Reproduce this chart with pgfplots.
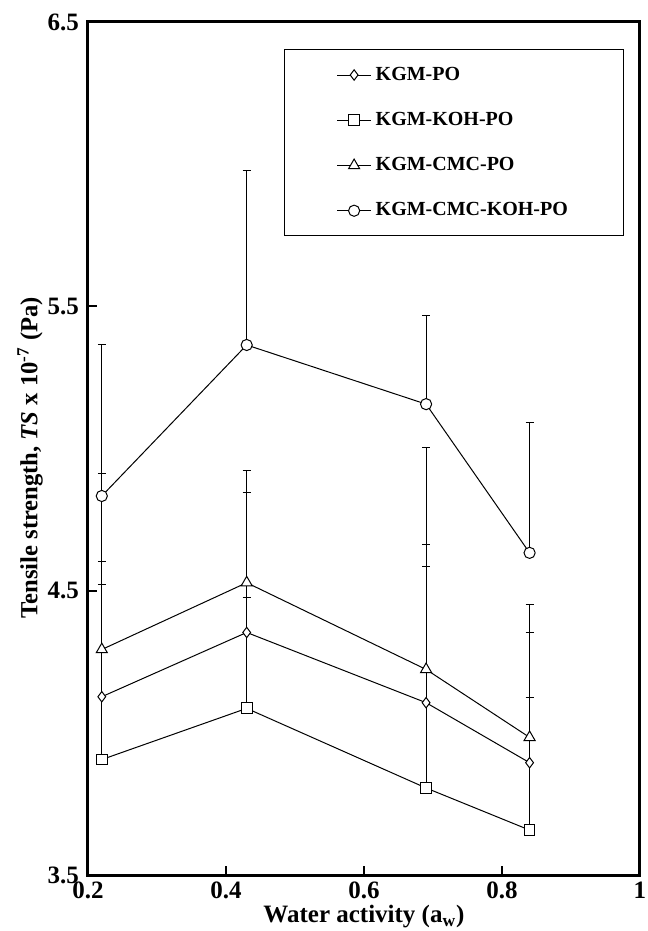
\documentclass[border=0pt]{standalone}
\usepackage{pgfplots}
\pgfplotsset{compat=1.18}
\usepackage{fontspec}
\setmainfont{Liberation Serif}
\begin{document}
\begin{tikzpicture}
\begin{axis}[
  scale only axis,
  width=276pt, height=426.5pt,
  xmin=0.2, xmax=1, ymin=3.5, ymax=6.5,
  xtick={0.2,0.4,0.6,0.8,1},
  xticklabels={0.2,0.4,0.6,0.8,1},
  ytick={3.5,4.5,5.5,6.5},
  yticklabels={3.5,4.5,5.5,6.5},
  tick pos=left, tick align=inside,
  major tick length=4.5pt,
  axis line style={line width=1.5pt},
  tick style={line width=1pt, black},
  /pgf/number format/assume math mode=true,
  ticklabel style={font=\fontsize{12.5}{14}\selectfont\bfseries},
  yticklabel style={xshift=-1pt},
  xlabel={Water activity (a\textsubscript{w})},
  ylabel={Tensile strength, \textit{TS} x 10\textsuperscript{-7} (Pa)},
  every axis x label/.style={at={(axis description cs:0.5,-0.049)}, anchor=center,
    font=\fontsize{12.5}{15}\selectfont\bfseries},
  every axis y label/.style={at={(axis description cs:-0.105,0.489)}, anchor=center, rotate=90,
    font=\fontsize{12.3}{15}\selectfont\bfseries},
  legend style={at={(0.355,0.968)}, anchor=north west, draw=black, line width=0.6pt,
    inner xsep=26pt, inner ysep=6.5pt, row sep=10.5pt,
    font=\fontsize{10}{12}\selectfont\bfseries, cells={anchor=west}},
  legend cell align=left,
  every axis plot/.append style={black, line width=0.5pt},
  error bars/y dir=plus, error bars/y explicit,
  error bars/error bar style={line width=0.5pt, black},
  error bars/error mark options={rotate=90, mark size=2pt, line width=0.5pt},
]
\addplot[mark=diamond*, mark size=2.6pt, mark options={fill=white, solid}]
  coordinates {(0.22,4.127) +- (0,0.475) (0.43,4.353) +- (0,0.491) (0.69,4.106) +- (0,0.557) (0.84,3.895) +- (0,0.458)};
\addlegendentry{KGM-PO}
\addplot[mark=square*, mark size=2.7pt, mark options={fill=white, solid}]
  coordinates {(0.22,3.906) +- (0,0.617) (0.43,4.086) +- (0,0.389) (0.69,3.806) +- (0,0.778) (0.84,3.658) +- (0,0.467)};
\addlegendentry{KGM-KOH-PO}
\addplot[mark=triangle*, mark size=3.2pt, mark options={fill=white, solid}]
  coordinates {(0.22,4.293) +- (0,0.619) (0.43,4.528) +- (0,0.394) (0.69,4.223) +- (0,0.780) (0.84,3.984) +- (0,0.469)};
\addlegendentry{KGM-CMC-PO}
\addplot[mark=*, mark size=2.8pt, mark options={fill=white, solid}]
  coordinates {(0.22,4.833) +- (0,0.531) (0.43,5.364) +- (0,0.615) (0.69,5.156) +- (0,0.310) (0.84,4.633) +- (0,0.459)};
\addlegendentry{KGM-CMC-KOH-PO}
\end{axis}
\pgfresetboundingbox
\path[use as bounding box] ([shift={(-44pt,-28pt)}]current axis.south west) rectangle ([shift={(4pt,11pt)}]current axis.north east);
\end{tikzpicture}
\end{document}
